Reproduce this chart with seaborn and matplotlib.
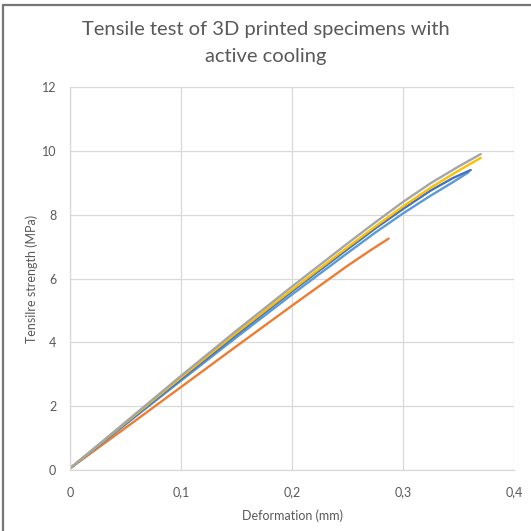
import matplotlib
matplotlib.use("Agg")
import matplotlib.pyplot as plt
from matplotlib.lines import Line2D
import pandas as pd
import seaborn as sns

# Deformation (mm) and tensile strength (MPa) per specimen
def_s1 = [0.0, 0.05, 0.10, 0.15, 0.20, 0.25, 0.275, 0.30, 0.325, 0.345, 0.361]
str_s1 = [0.05, 1.45, 2.85, 4.24, 5.60, 6.92, 7.57, 8.18, 8.76, 9.15, 9.40]

def_s2 = [0.0, 0.05, 0.10, 0.15, 0.20, 0.25, 0.27, 0.287]
str_s2 = [0.05, 1.32, 2.60, 3.88, 5.15, 6.40, 6.87, 7.25]

def_s3 = [0.0, 0.05, 0.10, 0.15, 0.20, 0.25, 0.275, 0.30, 0.325, 0.35, 0.37]
str_s3 = [0.05, 1.50, 2.95, 4.37, 5.75, 7.10, 7.76, 8.40, 8.99, 9.51, 9.90]

def_s4 = [0.0, 0.05, 0.10, 0.15, 0.20, 0.25, 0.275, 0.30, 0.325, 0.35, 0.37]
str_s4 = [0.05, 1.48, 2.90, 4.30, 5.65, 6.98, 7.63, 8.26, 8.85, 9.38, 9.78]

def_s5 = [0.0, 0.05, 0.10, 0.15, 0.20, 0.25, 0.275, 0.30, 0.325, 0.345, 0.359]
str_s5 = [0.05, 1.43, 2.80, 4.16, 5.50, 6.80, 7.44, 8.04, 8.60, 9.02, 9.33]

specimens = ["Specimen 1", "Specimen 2", "Specimen 3", "Specimen 4", "Specimen 5"]
colors = ["#4472C4", "#ED7D31", "#A5A5A5", "#FFC000", "#5B9BD5"]

x_ticks = [0, 0.1, 0.2, 0.3, 0.4]
x_tick_labels = ["0", "0,1", "0,2", "0,3", "0,4"]
y_ticks = [0, 2, 4, 6, 8, 10, 12]
y_tick_labels = ["0", "2", "4", "6", "8", "10", "12"]

series = [(def_s1, str_s1), (def_s2, str_s2), (def_s3, str_s3),
          (def_s4, str_s4), (def_s5, str_s5)]
frames = []
for name, (d, s) in zip(specimens, series):
    frames.append(pd.DataFrame({"Deformation": d, "Strength": s, "Specimen": name}))
df = pd.concat(frames, ignore_index=True)

sns.set_style("white")
plt.rcParams["font.family"] = ["Lato", "DejaVu Sans"]

text_color = "#595959"
grid_color = "#D9D9D9"

fig = plt.figure(figsize=(5.31, 5.31), dpi=100)
ax = fig.add_axes([0.132, 0.115, 0.836, 0.721])

draw_order = ["Specimen 2", "Specimen 5", "Specimen 1", "Specimen 4", "Specimen 3"]
for name in draw_order:
    sub = df[df["Specimen"] == name]
    sns.lineplot(data=sub, x="Deformation", y="Strength", ax=ax,
                 color=colors[specimens.index(name)], linewidth=1.7,
                 sort=False, estimator=None, legend=False)

ax.set_xlim(0, 0.4)
ax.set_ylim(0, 12)
ax.set_xticks(x_ticks)
ax.set_xticklabels(x_tick_labels)
ax.set_yticks(y_ticks)
ax.set_yticklabels(y_tick_labels)
ax.grid(True, color=grid_color, linewidth=0.9)
ax.set_axisbelow(True)
for side in ["top", "right"]:
    ax.spines[side].set_visible(False)
for side in ["left", "bottom"]:
    ax.spines[side].set_color(grid_color)
    ax.spines[side].set_linewidth(0.9)
ax.tick_params(axis="both", length=0, labelsize=9, colors=text_color)
ax.tick_params(axis="x", pad=12)
ax.tick_params(axis="y", pad=10)

ax.set_xlabel("Deformation (mm)", fontsize=9, color=text_color, labelpad=8)
ax.set_ylabel("Tensilre strength (MPa)", fontsize=9, color=text_color, labelpad=3)

fig.text(0.5, 0.919, "Tensile test of 3D printed specimens with\nactive cooling",
         ha="center", va="center", fontsize=14.5, color=text_color, linespacing=1.65)

# frame along the top and left edges
border = "#767676"
fig.add_artist(Line2D([3 / 531, 1.0], [1 - 5 / 531, 1 - 5 / 531],
                      transform=fig.transFigure, color=border, linewidth=1.6))
fig.add_artist(Line2D([3 / 531, 3 / 531], [0.0, 1 - 5 / 531],
                      transform=fig.transFigure, color=border, linewidth=1.6))

fig.savefig("out.png", dpi=100)
